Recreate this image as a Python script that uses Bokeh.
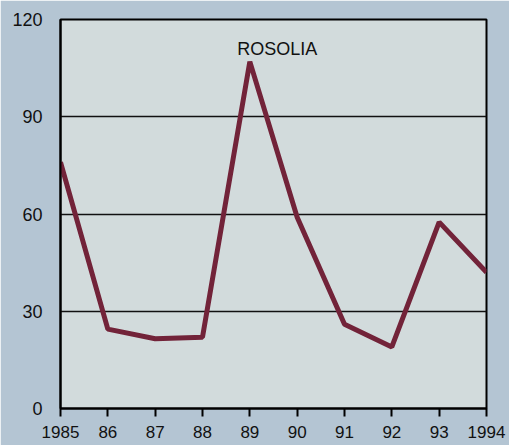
from bokeh.plotting import figure
from bokeh.models import Range1d, FixedTicker, ColumnDataSource
from bokeh.embed import file_html
from bokeh.resources import INLINE
from bokeh.core.properties import value

years = [1985, 1986, 1987, 1988, 1989, 1990, 1991, 1992, 1993, 1994]
cases = [76, 24.5, 21.5, 22, 107, 59, 26, 19, 57.5, 42]
x_tick_labels = ["1985", "86", "87", "88", "89", "90", "91", "92", "93", "1994"]
y_ticks = [0, 30, 60, 90, 120]
series_label = "ROSOLIA"
label_pos = (1989.58, 111)

OUTER_BG = "#b4c5d3"
INNER_BG = "#d2dbdc"
LINE_COLOR = "#722339"
FONT = "Liberation Sans"

p = figure(width=509, height=445, output_backend="svg", toolbar_location=None,
           x_range=Range1d(1985, 1994), y_range=Range1d(0, 120),
           min_border_left=60, min_border_right=23, min_border_top=19, min_border_bottom=37)
p.background_fill_color = INNER_BG
p.border_fill_color = OUTER_BG
p.outline_line_color = "black"
p.outline_line_width = 2

src = ColumnDataSource(dict(x=years, y=cases))
p.line("x", "y", source=src, line_color=LINE_COLOR, line_width=5)

p.text(x=[label_pos[0]], y=[label_pos[1]], text=[series_label],
       text_font=value(FONT), text_font_size="18px", text_color="#111111",
       text_align="center", text_baseline="alphabetic")

# x axis
p.xaxis.ticker = FixedTicker(ticks=years)
p.xaxis.major_label_overrides = {y: l for y, l in zip(years, x_tick_labels)}
p.xaxis.major_tick_out = 8
p.xaxis.major_tick_in = 0
p.xaxis.minor_tick_line_color = None
p.xaxis.major_tick_line_width = 2
p.xaxis.axis_line_width = 2
p.xaxis.major_label_standoff = 9
p.xaxis.major_label_text_font = FONT
p.xaxis.major_label_text_font_size = "17px"
p.xaxis.major_label_text_color = "#111111"

# y axis
p.yaxis.ticker = FixedTicker(ticks=y_ticks)
p.yaxis.major_tick_out = 0
p.yaxis.major_tick_in = 0
p.yaxis.minor_tick_line_color = None
p.yaxis.axis_line_width = 2
p.yaxis.major_label_standoff = 18
p.yaxis.major_label_text_font = FONT
p.yaxis.major_label_text_font_size = "18px"
p.yaxis.major_label_text_color = "#111111"

p.xgrid.grid_line_color = None
p.ygrid.ticker = FixedTicker(ticks=[30, 60, 90])
p.ygrid.grid_line_color = "#111111"
p.ygrid.grid_line_width = 1.5
p.ygrid.grid_line_alpha = 1.0

html = file_html(p, INLINE)
html = html.replace("<body>", '<body style="background:%s">' % OUTER_BG, 1)
open("out.html", "w").write(html)
